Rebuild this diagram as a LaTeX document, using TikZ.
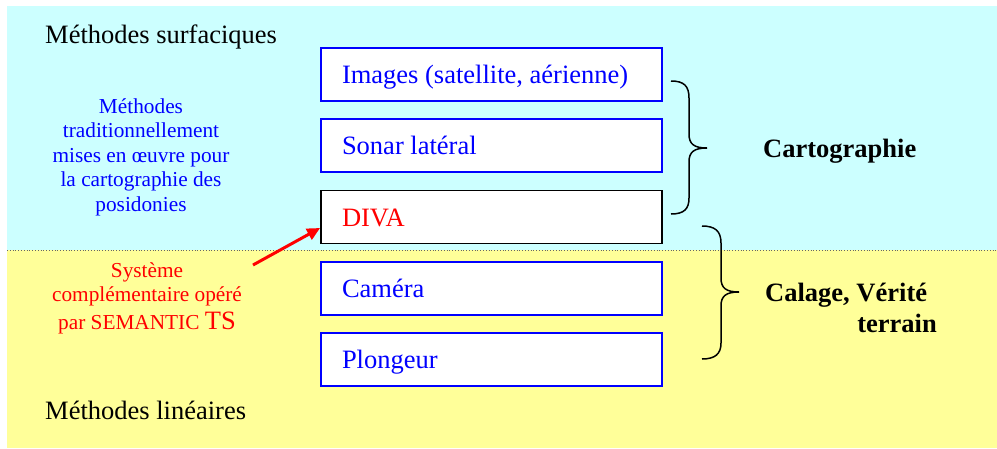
\documentclass[tikz,border=0pt]{standalone}
\usepackage{fontspec}
\setmainfont{Liberation Serif}
\usetikzlibrary{arrows.meta}
\definecolor{cyanbg}{HTML}{CCFFFF}
\definecolor{yellowbg}{HTML}{FFFF99}
\definecolor{pblue}{HTML}{0000FF}
\definecolor{pred}{HTML}{FF0000}
\begin{document}
\begin{tikzpicture}[x=1pt,y=-1pt,
  box/.style={draw=pblue, line width=1.8pt, fill=white, minimum width=341pt,
    minimum height=53pt, text width=299pt, inner xsep=21pt, inner ysep=0pt,
    align=flush left, text height=18pt, text depth=0pt,
    font=\fontsize{26.5}{30}\selectfont, text=pblue},
  bigtext/.style={inner sep=0pt, font=\fontsize{26.5}{30}\selectfont},
  boldtext/.style={inner sep=0pt, font=\fontsize{26.5}{30}\selectfont\bfseries},
  para/.style={inner sep=0pt, align=flush center, font=\fontsize{21.3}{24.5}\selectfont},
  bracestyle/.style={draw=black, line width=1.5pt},
  sep/.style={draw=black!60, dotted, line width=0.8pt}]
\useasboundingbox (0,0) rectangle (997,448);
\fill[white] (0,0) rectangle (997,448);
\fill[cyanbg] (7,6) rectangle (997,250);
\fill[yellowbg] (7,250) rectangle (997,448);
\draw[sep] (7,250) -- (997,250);

\node[bigtext, anchor=base west] (surf) at (45,43) {Méthodes surfaciques};
\node[bigtext, anchor=base west] (lin) at (45,419) {Méthodes linéaires};

\node[box] (img) at (491.5,74.5) {Images (satellite, aérienne)};
\node[box] (sonar) at (491.5,145.5) {Sonar latéral};
\node[box, draw=black, text=pred] (diva) at (491.5,217) {DIVA};
\node[box] (cam) at (491.5,288.5) {Caméra};
\node[box] (plong) at (491.5,359.5) {Plongeur};

\node[para, text=pblue, text width=210pt, anchor=base] (trad) at (141,113)
  {Méthodes\\traditionnellement\\mises en œuvre pour\\la cartographie des\\posidonies};
\node[para, text=pred, text width=210pt, anchor=base] (sys) at (147,277)
  {Système\\complémentaire opéré\\[3pt]par SEMANTIC {\fontsize{26.5}{30}\selectfont TS}};

\coordinate (arrtail) at (253,265);
\draw[pred, line width=3pt, -{Triangle[length=13pt,width=12pt]}] (arrtail) -- ([yshift=-11pt]diva.west);

% brace 1
\coordinate (b1top) at (671,81);
\coordinate (b1tip) at (707,148);
\coordinate (b1bot) at (671,214);
\draw[bracestyle] (b1top) .. controls (684,81) and (689,86) .. (689,98)
  -- (689,134) .. controls (689,144) and (694,148) .. (b1tip)
  .. controls (694,148) and (689,152) .. (689,162)
  -- (689,198) .. controls (689,209) and (684,214) .. (b1bot);
% brace 2
\coordinate (b2top) at (702,226);
\coordinate (b2tip) at (739,292);
\coordinate (b2bot) at (702,359);
\draw[bracestyle] (b2top) .. controls (715,226) and (721,231) .. (721,243)
  -- (721,278) .. controls (721,288) and (726,292) .. (b2tip)
  .. controls (726,292) and (721,296) .. (721,306)
  -- (721,343) .. controls (721,354) and (715,359) .. (b2bot);

\node[boldtext, anchor=base west] (carto) at (763,157) {Cartographie};
\node[boldtext, anchor=base west] (calage) at (765,301) {Calage, Vérité};
\node[boldtext, anchor=base east] (terrain) at (937,332) {terrain};
\end{tikzpicture}
\end{document}
